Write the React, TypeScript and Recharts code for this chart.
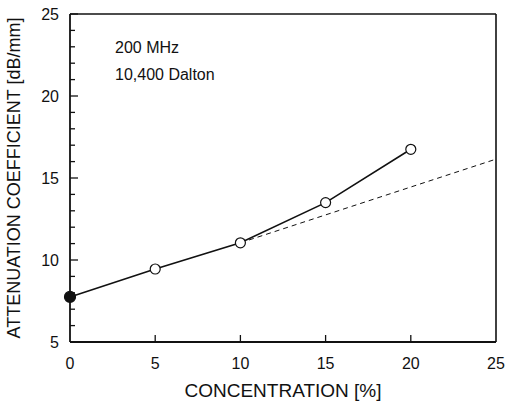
import { LineChart, Line, XAxis, YAxis, Label, ReferenceLine } from "recharts";

const concentration = [0, 5, 10, 15, 20, 25];
const measured = [7.75, 9.45, 11.05, 13.5, 16.75, null];
const trend = [null, null, 11.05, null, null, 16.15];
const xTicks = [0, 5, 10, 15, 20, 25];
const yTicks = [5, 6, 7, 8, 9, 10, 11, 12, 13, 14, 15, 16, 17, 18, 19, 20, 21, 22, 23, 24, 25];
const notes = ["200 MHz", "10,400 Dalton"];

const data = concentration.map((c, i) => ({ c, measured: measured[i], trend: trend[i] }));

const FONT = "'Liberation Sans', Arial, sans-serif";
const INK = "#111";

const YTick = (props: any) => {
    const { x, y, payload } = props;
    const major = payload.value % 5 === 0;
    return (
        <g>
            <line x1={x} x2={x + (major ? 8 : 5)} y1={y} y2={y} stroke={INK} strokeWidth={1.3} />
            {major && (
                <text x={x - 11} y={y} dy={6} textAnchor="end" fontSize={16} fontFamily={FONT} fill={INK}>
                    {payload.value}
                </text>
            )}
        </g>
    );
};

const XTick = (props: any) => {
    const { x, y, payload, index } = props;
    const edge = index === 0 || index === xTicks.length - 1;
    return (
        <g>
            {!edge && <line x1={x} x2={x} y1={y} y2={y - 7} stroke={INK} strokeWidth={1.3} />}
            <text x={x} y={y + 27} textAnchor="middle" fontSize={16} fontFamily={FONT} fill={INK}>
                {payload.value}
            </text>
        </g>
    );
};

const Dot = (props: any) => {
    const { cx, cy, index, value } = props;
    if (value == null || cx == null) return null;
    return (
        <circle
            key={index}
            cx={cx}
            cy={cy}
            r={index === 0 ? 5.5 : 5}
            fill={index === 0 ? INK : "#fff"}
            stroke={INK}
            strokeWidth={1.2}
        />
    );
};

export default function App() {
    return (
        <div style={{ position: "absolute", left: 0, top: 0, width: 506, height: 401, background: "#fff" }}>
            <LineChart width={506} height={401} data={data} margin={{ top: 14, right: 10, left: 0, bottom: 0 }}>
                <XAxis
                    dataKey="c"
                    type="number"
                    domain={[0, 25]}
                    ticks={xTicks}
                    height={59}
                    tickSize={0}
                    tickMargin={0}
                    tickLine={false}
                    tick={<XTick />}
                    axisLine={{ stroke: INK, strokeWidth: 1.8 }}
                >
                    <Label
                        value="CONCENTRATION [%]"
                        position="insideBottom"
                        offset={4}
                        style={{ fontSize: 19, fontFamily: FONT, fill: INK }}
                    />
                </XAxis>
                <YAxis
                    type="number"
                    domain={[5, 25]}
                    ticks={yTicks}
                    interval={0}
                    width={70}
                    tickSize={0}
                    tickMargin={0}
                    tickLine={false}
                    tick={<YTick />}
                    axisLine={{ stroke: INK, strokeWidth: 1.8 }}
                >
                    <Label
                        value="ATTENUATION  COEFFICIENT [dB/mm]"
                        angle={-90}
                        position="insideLeft"
                        offset={0}
                        dx={14}
                        style={{ fontSize: 18, fontFamily: FONT, fill: INK, textAnchor: "middle" }}
                    />
                </YAxis>
                <ReferenceLine y={25} stroke={INK} strokeWidth={1.6} />
                <ReferenceLine x={25} stroke={INK} strokeWidth={1.6} />
                <Line
                    dataKey="trend"
                    stroke={INK}
                    strokeWidth={1}
                    strokeDasharray="5 4"
                    dot={false}
                    connectNulls
                    isAnimationActive={false}
                />
                <Line
                    dataKey="measured"
                    stroke={INK}
                    strokeWidth={1.6}
                    dot={<Dot />}
                    isAnimationActive={false}
                />
                {notes.map((n, i) => (
                    <text key={n} x={115} y={53 + i * 27} fontSize={16} fontFamily={FONT} fill={INK}>
                        {n}
                    </text>
                ))}
            </LineChart>
        </div>
    );
}
